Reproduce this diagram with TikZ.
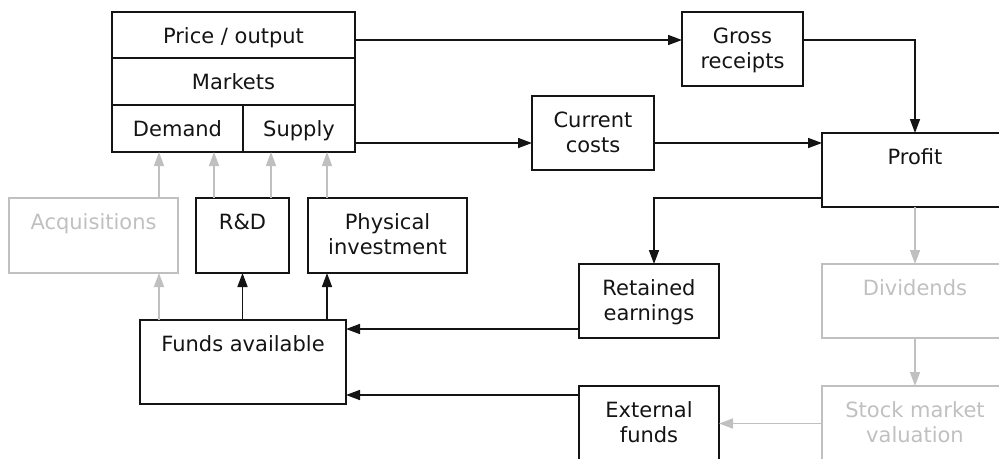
\documentclass[tikz,border=0pt]{standalone}
\usepackage{fontspec}
\setmainfont{DejaVu Sans}
\usetikzlibrary{arrows.meta}
\definecolor{faint}{RGB}{192,192,192}
\definecolor{ink}{RGB}{20,20,20}
% multi-line box text whose baseline is the first line's baseline
\newcommand{\stacktext}[1]{\begin{tabular}[t]{@{}c@{}}#1\end{tabular}}

\begin{document}
\begin{tikzpicture}[x=1pt,y=-1pt,
  font=\fontsize{21}{25}\selectfont,
  box/.style={draw=ink, text=ink, line width=1.8pt, inner sep=0pt, outer sep=0pt,
    anchor=north west, text height=31pt, align=center},
  faded/.style={draw=faint, text=faint},
  arr/.style={draw=ink, line width=1.6pt, -{Triangle[length=14pt,width=10pt]}},
  farr/.style={arr, draw=faint}
]
\useasboundingbox (0,0) rectangle (999,458);
\clip (0,0) rectangle (999,458);

% market block
\node[box, minimum width=243pt, minimum height=46pt, text depth=15pt] (price) at (112,12) {Price / output};
\node[box, minimum width=243pt, minimum height=47pt, text depth=16pt] (markets) at (112,58) {Markets};
\node[box, minimum width=131pt, minimum height=47pt, text depth=16pt] (demand) at (112,105) {Demand};
\node[box, minimum width=112pt, minimum height=47pt, text depth=16pt] (supply) at (243,105) {Supply};

% flows of money
\node[box, minimum width=121pt, minimum height=74pt, text depth=43pt] (gross) at (682,12) {\stacktext{Gross\\receipts}};
\node[box, minimum width=122pt, minimum height=74pt, text depth=43pt] (cc) at (532,96) {\stacktext{Current\\costs}};
\node[box, minimum width=186pt, minimum height=74pt, text depth=43pt] (profit) at (822,133) {Profit};
\node[box, faded, minimum width=186pt, minimum height=74pt, text depth=43pt] (div) at (822,264) {Dividends};
\node[box, faded, minimum width=186pt, minimum height=75pt, text depth=44pt] (stock) at (822,386) {\stacktext{Stock market\\valuation}};
\node[box, minimum width=140pt, minimum height=74pt, text depth=43pt] (re) at (579,264) {\stacktext{Retained\\earnings}};
\node[box, minimum width=140pt, minimum height=75pt, text depth=44pt] (ext) at (579,386) {\stacktext{External\\funds}};

% uses of funds
\node[box, faded, minimum width=169pt, minimum height=75pt, text depth=44pt] (acq) at (9,198) {Acquisitions};
\node[box, minimum width=93pt, minimum height=75pt, text depth=44pt] (rd) at (196,198) {R\&D};
\node[box, minimum width=159pt, minimum height=75pt, text depth=44pt] (phys) at (308,198) {\stacktext{Physical\\investment}};
\node[box, minimum width=206pt, minimum height=84pt, text depth=53pt] (funds) at (140,320) {Funds available};

% connectors
\draw[arr] ([yshift=-5pt]price.east) -- ([yshift=9pt]gross.west);
\draw[arr] ([yshift=9pt]gross.east) -| (profit.north);
\draw[arr] ([yshift=-14.5pt]supply.east) -- ([yshift=-10pt]cc.west);
\draw[arr] ([yshift=-10pt]cc.east) -- ([yshift=27pt]profit.west);
\draw[arr] ([yshift=9pt]profit.south west) -| (cc.east |- re.north);
\draw[arr] ([yshift=9pt]re.south west) -- ([yshift=9pt]re.south west -| funds.east);
\draw[arr] ([yshift=-9pt]ext.north west) -- ([yshift=9pt]funds.south east);
\draw[farr] (profit.south) -- (div.north);
\draw[farr] (div.south) -- (stock.north);
\draw[farr] (stock.west) -- (ext.east);

\draw[farr] ([xshift=19pt]funds.north west) -- ([xshift=19pt]funds.north west |- acq.south);
\draw[farr] ([xshift=19pt]funds.north west |- acq.north) -- ([xshift=19pt]funds.north west |- demand.south);
\draw[farr] ([xshift=18pt]rd.north west) -- ([xshift=18pt]rd.north west |- demand.south);
\draw[farr] ([xshift=-18pt]rd.north east) -- ([xshift=-18pt]rd.north east |- supply.south);
\draw[farr] ([xshift=19pt]phys.north west) -- ([xshift=19pt]phys.north west |- supply.south);
\draw[arr] (funds.north -| rd.south) -- (rd.south);
\draw[arr] ([xshift=19pt]phys.south west |- funds.north) -- ([xshift=19pt]phys.south west);
\end{tikzpicture}
\end{document}
